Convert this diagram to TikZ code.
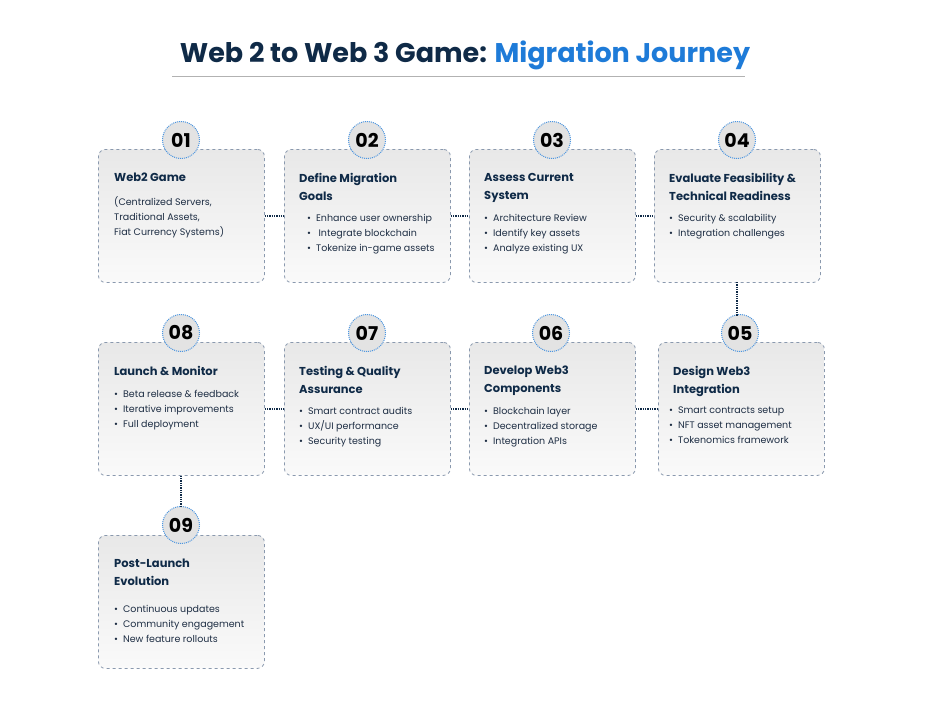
\documentclass[tikz,border=0pt]{standalone}
\usepackage{fontspec}
\setmainfont{Poppins}
\usetikzlibrary{calc}
\definecolor{navy}{HTML}{0F2A47}
\definecolor{tblue}{HTML}{1E7BD8}
\definecolor{txt}{HTML}{1E2E44}
\definecolor{bord}{HTML}{8A99AE}
\tikzset{
 card/.style={draw=bord, dashed, line width=0.8pt, rounded corners=7pt, top color=gray!18, bottom color=gray!4, minimum width=166pt, minimum height=133pt, anchor=north west},
 badge/.style={circle, draw=tblue!80, densely dotted, line width=1pt, fill=gray!22, minimum size=37pt, font=\bfseries\fontsize{19}{19}\selectfont, text=black, inner sep=0pt},
 conn/.style={densely dotted, line width=1.3pt, draw=navy},
 head/.style={anchor=north west, align=left, font=\bfseries\fontsize{11.5}{18}\selectfont, text=navy, inner sep=0pt},
 body/.style={anchor=north west, align=left, font=\fontsize{9.5}{15}\selectfont, text=txt, inner sep=0pt},
}
\newcommand{\bl}{\textbullet\hspace{5pt}}
\begin{document}
\begin{tikzpicture}[x=1pt,y=-1pt]
\useasboundingbox[fill=white] (0,0) rectangle (931,713);
\node[font=\bfseries\fontsize{27}{27}\selectfont] (title) at (465,55) {\textcolor{navy}{Web 2 to Web 3 Game: }\textcolor{tblue}{Migration Journey}};
\draw[gray!60, line width=0.8pt] (172,76) -- (745,76);
% row 1
\node[card] (c1) at (98,149) {};
\node[card] (c2) at (284,149) {};
\node[card] (c3) at (469,149) {};
\node[card] (c4) at (654,149) {};
% row 2
\node[card] (c8) at (98,342) {};
\node[card] (c7) at (284,342) {};
\node[card] (c6) at (469,342) {};
\node[card] (c5) at (658,342) {};
\node[card] (c9) at (98,535) {};
% connectors
\draw[conn] (c1.east) -- (c2.west);
\draw[conn] (c2.east) -- (c3.west);
\draw[conn] (c3.east) -- (c4.west);
\draw[conn] (c8.east) -- (c7.west);
\draw[conn] (c7.east) -- (c6.west);
\draw[conn] (c6.east) -- (c5.west);
\node[badge] (b1) at (181,140) {01};
\node[badge] (b2) at (367,140) {02};
\node[badge] (b3) at (552,140) {03};
\node[badge] (b4) at (737,140) {04};
\node[badge] (b8) at (181,333) {08};
\node[badge] (b7) at (367,333) {07};
\node[badge] (b6) at (551,333) {06};
\node[badge] (b5) at (740,333) {05};
\node[badge] (b9) at (181,525) {09};
\draw[conn] (737,282) -- (737,316);
\draw[conn] (c8.south -| b8) -- (b9.north);
% texts
\node[head] (h1) at (114,173) {Web2 Game};
\node[body] (t1) at (114,196) {(Centralized Servers,\\Traditional Assets,\\Fiat Currency Systems)};
\node[head] (h2) at (299,173) {Define Migration\\Goals};
\node[body] (t2) at (307,214) {\bl Enhance user ownership\\\bl\ Integrate blockchain\\\bl Tokenize in-game assets};
\node[head] (h3) at (484,173) {Assess Current\\System};
\node[body] (t3) at (484,214) {\bl Architecture Review\\\bl Identify key assets\\\bl Analyze existing UX};
\node[head] (h4) at (669,173) {Evaluate Feasibility \&\\Technical Readiness};
\node[body] (t4) at (669,214) {\bl Security \& scalability\\\bl Integration challenges};
\node[head] (h8) at (114,366) {Launch \& Monitor};
\node[body] (t8) at (114,390) {\bl Beta release \& feedback\\\bl Iterative improvements\\\bl Full deployment};
\node[head] (h7) at (299,366) {Testing \& Quality\\Assurance};
\node[body] (t7) at (299,407) {\bl Smart contract audits\\\bl UX/UI performance\\\bl Security testing};
\node[head] (h6) at (484,366) {Develop Web3\\Components};
\node[body] (t6) at (484,407) {\bl Blockchain layer\\\bl Decentralized storage\\\bl Integration APIs};
\node[head] (h5) at (673,366) {Design Web3\\Integration};
\node[body] (t5) at (669,407) {\bl Smart contracts setup\\\bl NFT asset management\\\bl Tokenomics framework};
\node[head] (h9) at (114,559) {Post-Launch\\Evolution};
\node[body] (t9) at (114,605) {\bl Continuous updates\\\bl Community engagement\\\bl New feature rollouts};
\end{tikzpicture}
\end{document}
